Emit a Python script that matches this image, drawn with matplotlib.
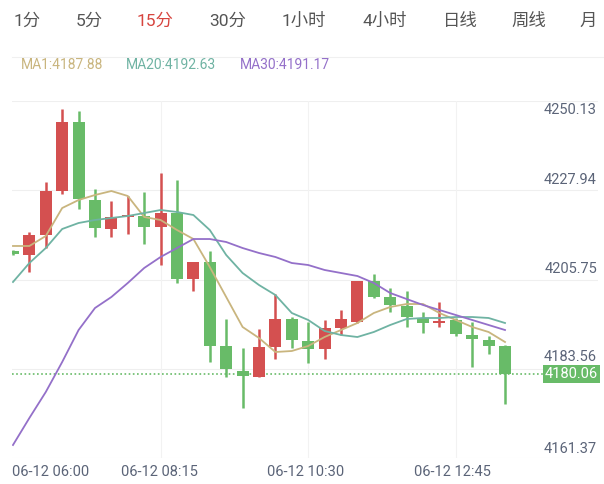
import matplotlib
matplotlib.use("Agg")
import matplotlib.pyplot as plt

plt.rcParams['font.family'] = ['Roboto', 'Noto Sans CJK SC', 'DejaVu Sans']

opens  = [4212.71,4211.65,4216.95,4228.63,4246.95,4226.24,4218.55,4221.73,4222.00,4219.08,
          4222.79,4205.28,4209.79,4187.50,4180.86,4179.27,4187.23,4194.66,4188.82,4186.70,
          4192.27,4193.87,4204.75,4200.50,4198.11,4194.93,4193.60,4194.40,4190.41,4189.09,4187.50]
closes = [4211.91,4216.95,4228.63,4246.95,4226.51,4218.81,4221.73,4222.26,4219.08,4222.79,
          4205.28,4209.79,4187.50,4181.39,4179.53,4187.23,4194.66,4189.09,4186.70,4192.27,
          4194.66,4204.75,4200.50,4198.38,4195.19,4193.60,4194.13,4190.68,4189.35,4187.50,4180.06]
highs  = [4212.90,4217.75,4231.02,4250.40,4249.86,4229.16,4225.98,4227.31,4228.37,4233.41,
          4231.55,4209.79,4212.71,4194.66,4186.96,4192.01,4201.30,4195.19,4193.87,4194.40,
          4197.05,4204.75,4206.60,4202.89,4202.09,4196.52,4199.17,4194.93,4193.87,4190.15,4187.76]
lows   = [4211.70,4207.13,4213.50,4227.84,4223.86,4216.42,4216.42,4217.22,4214.57,4208.99,
          4204.22,4202.09,4183.25,4179.27,4171.04,4179.27,4184.05,4186.96,4182.98,4184.05,
          4190.41,4193.60,4200.24,4196.52,4192.54,4190.95,4192.54,4190.15,4181.92,4185.37,4172.10]
ma1  = [4214.04,4214.04,4216.69,4224.12,4226.24,4227.57,4228.63,4227.31,4221.73,4220.94,
        4218.28,4215.89,4208.46,4200.50,4192.54,4189.62,4185.90,4186.17,4187.50,4189.88,
        4191.74,4193.60,4196.25,4197.85,4198.64,4198.64,4196.25,4194.40,4192.54,4191.21,4188.56]
ma20 = [4204.48,4209.52,4213.50,4218.55,4220.14,4220.94,4221.47,4222.00,4222.79,4223.59,
        4223.06,4222.26,4218.28,4211.65,4206.87,4203.68,4201.03,4196.25,4194.40,4191.48,
        4190.41,4189.88,4191.21,4193.07,4194.66,4194.93,4194.93,4195.19,4195.19,4194.93,4193.60]
ma30 = [4161.22,4168.39,4175.29,4183.25,4191.74,4197.58,4200.50,4204.22,4208.20,4211.12,
        4213.50,4215.89,4215.89,4215.10,4213.50,4212.18,4211.12,4209.52,4208.99,4207.67,
        4206.87,4206.07,4204.22,4201.56,4199.97,4198.38,4197.05,4195.72,4194.40,4193.07,4191.74]
y_labels = ["4250.13", "4227.94", "4205.75", "4183.56", "4161.37"]
x_labels = {9: "06-12 08:15", 18: "06-12 10:30", 27: "06-12 12:45"}
first_label = "06-12 06:00"
tabs = ["1分", "5分", "15分", "30分", "1小时", "4小时", "日线", "周线", "月"]
tab_x = [27, 89, 155, 228, 304, 385, 460, 529, 588]
legend = [("MA1:4187.88", "#c9b57e", 21), ("MA20:4192.63", "#6fb3a3", 126), ("MA30:4191.17", "#9470c9", 240)]
last_price = 4180.06

RED, GREEN = "#d45050", "#68bb68"
W, H = 604, 484
fig = plt.figure(figsize=(6.04, 4.84), dpi=100)
L, R, T, B = 12, 598, 101, 458
ax = fig.add_axes([L / W, 1 - B / H, (R - L) / W, (B - T) / H])
ymax, ymin = 4252.52, 4157.77
ax.set_ylim(ymin, ymax)
ax.set_xlim(-0.06, 35.67)
for s in ax.spines.values():
    s.set_visible(False)
ax.set_xticks([]); ax.set_yticks([])

for f in [0, 0.25, 0.5, 0.75, 1.0]:
    ax.axhline(ymin + f * (ymax - ymin), color="#efefef", lw=0.8, zorder=0)
for i in x_labels:
    ax.axvline(i, color="#f2f2f2", lw=0.8, zorder=0)

for i, (o, c, h, l) in enumerate(zip(opens, closes, highs, lows)):
    col = RED if c >= o else GREEN
    ax.vlines(i, l, h, color=col, lw=1.8, zorder=2)
    ax.bar(i, max(abs(c - o), 0.3), bottom=min(o, c), width=0.74, color=col, zorder=3)

xs = list(range(len(ma1)))
ax.plot(xs, ma1, color=legend[0][1], lw=1.3, zorder=4)
ax.plot(xs, ma20, color=legend[1][1], lw=1.3, zorder=4)
ax.plot(xs, ma30, color=legend[2][1], lw=1.3, zorder=4)
ax.axhline(last_price, color=GREEN, lw=1.2, ls=(0, (1, 1.5)), zorder=1)

ax.text(1.0, last_price, "4180.06", transform=ax.get_yaxis_transform(), ha="right", va="center",
        color="white", fontsize=10.5, zorder=6,
        bbox=dict(boxstyle="square,pad=0.12", fc=GREEN, ec="none"))

lab_col = "#5b6478"
ypix = [110, 180, 269, 357, 449]
for t, yp in zip(y_labels, ypix):
    fig.text(597 / W, 1 - yp / H, t, ha="right", va="center", color=lab_col, fontsize=10.5)
xl_pix = {9: 159, 18: 306, 27: 452}
fig.text(12 / W, 1 - 472 / H, first_label, ha="left", va="center", color=lab_col, fontsize=10.5)
for i, t in x_labels.items():
    fig.text(xl_pix[i] / W, 1 - 472 / H, t, ha="center", va="center", color=lab_col, fontsize=10.5)

for t, x in zip(tabs, tab_x):
    fig.text(x / W, 1 - 21 / H, t, ha="center", va="center", fontsize=12.5,
             color="#d7453f" if t == "15分" else "#555555")
fig.add_artist(plt.Line2D([12 / W, 1], [1 - 57 / H] * 2, color="#f0f0f0", lw=0.8))
for t, c, x in legend:
    fig.text(x / W, 1 - 65 / H, t, ha="left", va="center", color=c, fontsize=10)

fig.savefig("out.png", dpi=100)
